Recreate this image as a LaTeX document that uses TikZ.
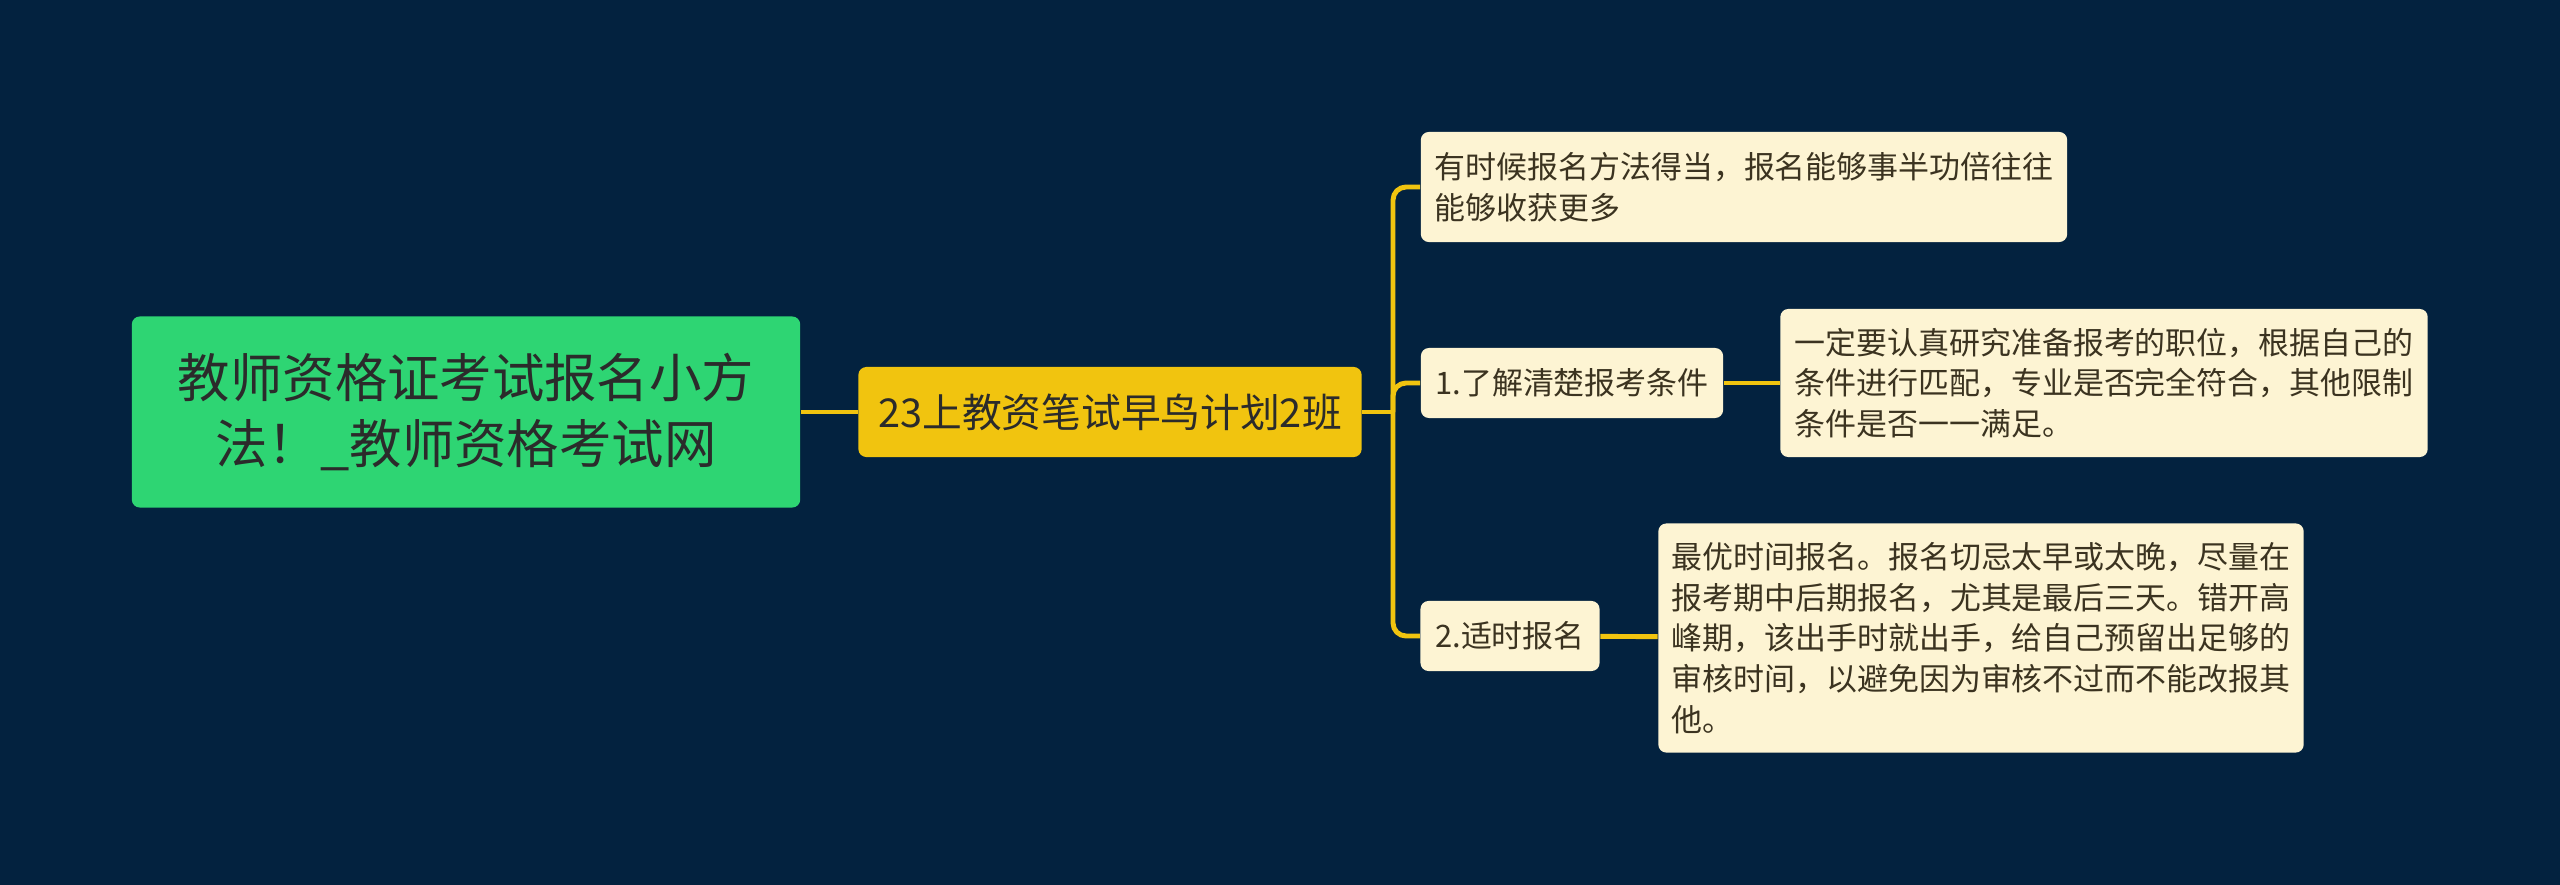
\documentclass[tikz,border=0pt]{standalone}
\usepackage{fontspec}
\setmainfont{Noto Sans CJK SC}
\usepackage{xcolor}
\usepackage{tikz}
\usetikzlibrary{positioning}
\definecolor{bg}{HTML}{03223F}
\definecolor{rootc}{HTML}{2ED573}
\definecolor{hubc}{HTML}{F1C40F}
\definecolor{leafc}{HTML}{FDF4D3}
\definecolor{ink}{HTML}{2B2B2B}
\definecolor{leafink}{HTML}{3B3320}

\begin{document}
\begin{tikzpicture}[x=0.01cm,y=-0.01cm,
  rt/.style={fill=rootc,rounded corners=0.08cm,text=ink,align=center,
    font=\fontsize{14.9}{18.6}\selectfont,minimum width=6.68cm,minimum height=1.91cm},
  hb/.style={fill=hubc,rounded corners=0.08cm,text=ink,
    font=\fontsize{11.3}{14}\selectfont,minimum width=5.03cm,minimum height=0.9cm},
  lf/.style={fill=leafc,rounded corners=0.08cm,text=leafink,align=left,
    font=\fontsize{8.8}{11.6}\selectfont,minimum height=0.7cm},
  e/.style={hubc,line width=1.4pt,rounded corners=0.13cm}]
  \fill[bg] (0,0) rectangle (2560,885);
  \useasboundingbox (0,0) rectangle (2560,885);
  \node[rt] (root) at (466,412) {教师资格证考试报名小方\\法！\_教师资格考试网};
  \node[hb] (hub) at (1110,412) {23上教资笔试早鸟计划2班};
  \node[lf,minimum width=6.46cm,minimum height=1.1cm] (tip) at (1744,187)
    {有时候报名方法得当，报名能够事半功倍往往\\能够收获更多};
  \node[lf,minimum width=3.02cm] (cond) at (1572,383) {1.了解清楚报考条件};
  \node[lf,minimum width=6.47cm,minimum height=1.48cm] (condx) at (2104,383)
    {一定要认真研究准备报考的职位，根据自己的\\条件进行匹配，专业是否完全符合，其他限制\\条件是否一一满足。};
  \node[lf,minimum width=1.79cm] (time) at (1510,636) {2.适时报名};
  \node[lf,minimum width=6.45cm,minimum height=2.29cm] (timex) at (1981,638)
    {最优时间报名。报名切忌太早或太晚，尽量在\\报考期中后期报名，尤其是最后三天。错开高\\峰期，该出手时就出手，给自己预留出足够的\\审核时间，以避免因为审核不过而不能改报其\\他。};
  \coordinate (j) at (1393,412);
  \draw[e] (root) -- (hub);
  \draw[e] (hub.east) -- (j);
  \draw[e] (j) |- (tip.west);
  \draw[e] (j) |- (cond.west);
  \draw[e] (j) |- (time.west);
  \draw[e] (cond) -- (condx);
  \draw[e] (time) -- (timex);
\end{tikzpicture}
\end{document}
